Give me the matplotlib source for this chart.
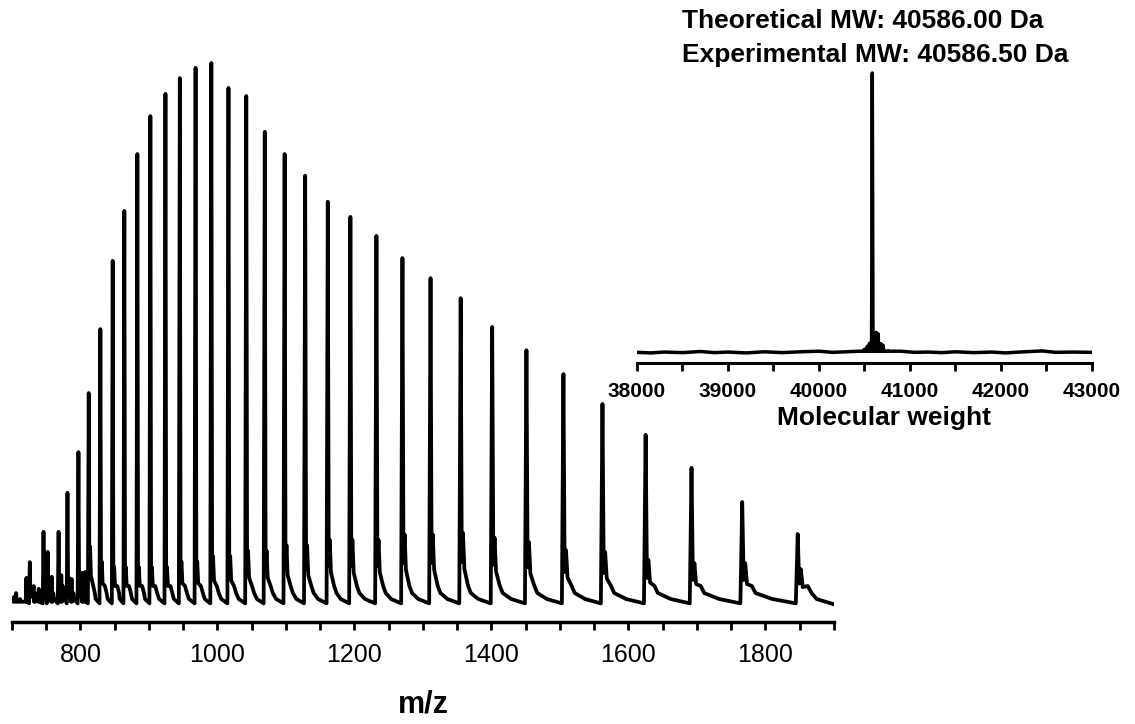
import matplotlib
matplotlib.use("Agg")
import matplotlib.pyplot as plt
from matplotlib.ticker import MultipleLocator

plt.rcParams['font.family'] = ['Liberation Sans', 'DejaVu Sans']

# ESI charge-state envelope (m/z, relative intensity %)
peak_mz = [726, 746, 752, 768, 781, 797, 812, 829, 847, 864, 883, 902, 924, 945,
           968, 991, 1016, 1042, 1069, 1098, 1128, 1161, 1194, 1232, 1270, 1311,
           1355, 1401, 1451, 1505, 1562, 1625, 1692, 1766, 1847]
peak_int = [7.9, 13.5, 9.8, 13.5, 20.7, 28.2, 39.1, 50.9, 63.5, 72.7, 83.2, 90.2,
            94.3, 97.2, 99.1, 100.0, 95.4, 93.9, 87.3, 83.2, 79.2, 74.4, 71.6,
            68.1, 64.0, 60.3, 56.6, 51.3, 47.0, 42.6, 37.1, 31.4, 25.3, 19.0, 13.1]
# adduct shoulder right next to each peak
shoulder_int = [3.0, 4.0, 5.0, 4.0, 5.0, 6.0, 10.7, 8.0, 7.0, 7.0, 7.0, 7.0, 7.0,
                8.0, 8.0, 9.0, 9.0, 10.0, 10.0, 11.0, 11.0, 12.0, 12.0, 12.0, 13.0,
                13.0, 13.3, 12.4, 11.6, 10.1, 9.8, 8.3, 7.7, 7.7, 6.6]
# small noise peaks in the low m/z region
minor_mz = [703, 706, 712, 721, 733, 739, 758, 772, 787, 803, 807]
minor_int = [1.5, 2.2, 1.1, 5.0, 1.8, 3.0, 5.2, 5.5, 4.8, 5.9, 6.1]

# deconvoluted spectrum (Da, relative intensity %)
mw_peak = [40450, 40500, 40530, 40555, 40586, 40610, 40630, 40650, 40680, 40705, 40760]
mw_int = [0.8, 1.5, 2.5, 3.6, 100.0, 5.0, 7.5, 7.0, 3.5, 2.9, 1.0]
mw_noise = [38000, 38150, 38300, 38500, 38700, 38850, 39000, 39200, 39400, 39600,
            39800, 40000, 40150, 40300, 40900, 41050, 41200, 41350, 41500, 41700,
            41900, 42050, 42200, 42450, 42600, 42800, 43000]
mw_noise_int = [0.4, 0.2, 0.5, 0.3, 0.7, 0.3, 0.5, 0.2, 0.6, 0.3, 0.6, 0.8, 0.4,
                0.6, 0.8, 0.4, 0.5, 0.3, 0.6, 0.3, 0.5, 0.2, 0.5, 0.9, 0.4, 0.5, 0.4]

# peak shape offsets (m/z per 1000 m/z)
shape_dx = [-1.5, 0.0, 1.2, 2.5, 4.0, 8.0, 11.0]

xs, ys = [700.0], [1.0]
for i, (p, h, s) in enumerate(zip(peak_mz, peak_int, shoulder_int)):
    k = p / 1000.0
    lv = [0.3, h, s * 0.6, s, s * 0.5, 3.5, 2.2]
    for dx, v in zip(shape_dx, lv):
        xs.append(p + dx * k)
        ys.append(v)
    nxt = peak_mz[i + 1] if i + 1 < len(peak_mz) else 1895
    xs.append((p + nxt) / 2.0 + 2 * k)
    ys.append(1.1)
for p, h in zip(minor_mz, minor_int):
    xs += [p - 1.0, p, p + 1.0]
    ys += [0.6, h, 0.6]
xs.append(1898.0)
ys.append(0.2)
pts = sorted(zip(xs, ys))
xs = [a for a, b in pts]
ys = [b for a, b in pts]

mx, my = [], []
for p, v in zip(mw_noise, mw_noise_int):
    mx.append(p)
    my.append(v)
for p, v in zip(mw_peak, mw_int):
    mx += [p - 8, p, p + 8]
    my += [0.8, v, 0.8]
pts = sorted(zip(mx, my))
mx = [a for a, b in pts]
my = [b for a, b in pts]

fig = plt.figure(figsize=(11.35, 7.24), dpi=100)

ax = fig.add_axes([0.01057, 0.14088, 0.72423, 0.80387])
ax.plot(xs, ys, color='black', lw=2.7, solid_joinstyle='round')
ax.set_xlim(700, 1900)
ax.set_ylim(-3.14, 104.24)
for s in ['left', 'right', 'top']:
    ax.spines[s].set_visible(False)
ax.spines['bottom'].set_linewidth(2.5)
ax.yaxis.set_visible(False)
ax.xaxis.set_major_locator(MultipleLocator(200))
ax.xaxis.set_minor_locator(MultipleLocator(50))
ax.tick_params(axis='x', which='both', direction='out', length=6, width=2, pad=9,
               labelsize=18)
ax.patch.set_visible(False)

ins = fig.add_axes([0.5612, 0.49862, 0.40088, 0.40470])
ins.plot(mx, my, color='black', lw=2.5)
ins.set_xlim(38000, 43000)
ins.set_ylim(-3.4, 101.07)
for s in ['left', 'right', 'top']:
    ins.spines[s].set_visible(False)
ins.spines['bottom'].set_linewidth(2.2)
ins.yaxis.set_visible(False)
ins.xaxis.set_major_locator(MultipleLocator(1000))
ins.xaxis.set_minor_locator(MultipleLocator(500))
ins.tick_params(axis='x', which='both', direction='out', length=6, width=2, pad=8,
                labelsize=15)
for t in ins.get_xticklabels():
    t.set_fontweight('bold')
ins.patch.set_visible(False)

fig.text(0.3727, 0.0152, 'm/z', ha='center', va='baseline', fontsize=22,
         fontweight='bold')
fig.text(0.7789, 0.413, 'Molecular weight', ha='center', va='baseline',
         fontsize=19, fontweight='bold')
fig.text(0.6009, 0.9613, 'Theoretical MW: 40586.00 Da', ha='left', va='baseline',
         fontsize=19, fontweight='bold')
fig.text(0.6009, 0.9144, 'Experimental MW: 40586.50 Da', ha='left', va='baseline',
         fontsize=19, fontweight='bold')

fig.savefig('out.png', dpi=100)
